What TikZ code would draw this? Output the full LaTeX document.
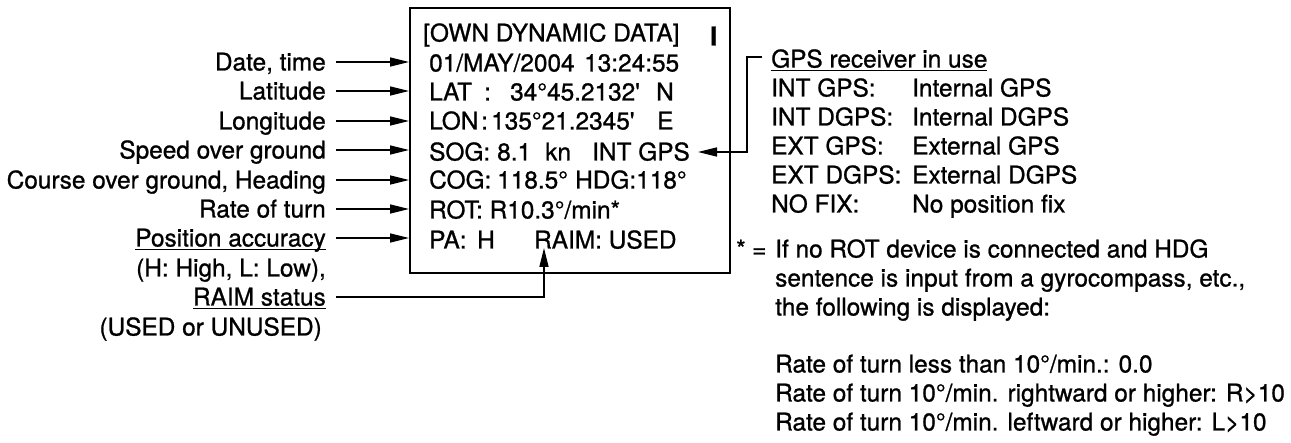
\documentclass[tikz,border=0pt]{standalone}
\usepackage{fontspec}
\setmainfont{TeX Gyre Heros}[Ligatures=TeXOff, FakeBold=0.9]
\usetikzlibrary{arrows.meta}
\newcommand\myul[1]{\setbox0=\hbox{#1}\rlap{\vrule width\wd0 height -2.4pt depth 3.9pt}\box0}
\begin{document}
\begin{tikzpicture}[x=1pt,y=-1pt,
  txt/.style={inner sep=0pt, text height=17pt, text depth=0pt, font=\fontsize{24.4}{29}\selectfont},
  lab/.style={txt, anchor=east},
  cell/.style={txt, anchor=west},
  arr/.style={line width=1.6pt, -{Triangle[length=19pt,width=9pt]}},
  frame/.style={draw, line width=1.6pt, inner sep=0pt, minimum width=320pt, minimum height=265pt, anchor=north west}]
\useasboundingbox (0,0) rectangle (1291,443);
% display box
\node[frame] (box) at (409,7) {};
% box contents
\node[cell] (hdr) at (423,33) {[OWN DYNAMIC DATA]};
\node[cell, font=\fontsize{26}{29}\selectfont\bfseries] (cur) at (710,37) {I};
\node[cell] (r1a) at (429,63) {01/MAY/2004};
\node[cell] (r1b) at (584,63) {13:24:55};
\node[cell] (r2a) at (429,92) {LAT};
\node[cell] (r2b) at (484,92) {:};
\node[cell] (r2c) at (510,92) {34°45.2132'};
\node[cell] (r2d) at (656,92) {N};
\node[cell] (r3a) at (429,121) {LON};
\node[cell] (r3b) at (481,121) {:};
\node[cell] (r3c) at (491,121) {135°21.2345'};
\node[cell] (r3d) at (657,121) {E};
\node[cell] (r4a) at (429,152) {SOG:};
\node[cell] (r4b) at (497,152) {8.1};
\node[cell] (r4c) at (545,152) {kn};
\node[cell] (intgps) at (592,152) {INT GPS};
\node[cell] (r5a) at (429,180) {COG:};
\node[cell] (r5b) at (497,180) {118.5°};
\node[cell] (r5c) at (575,180) {HDG:118°};
\node[cell] (r6a) at (429,210) {ROT: R10.3°/min*};
\node[cell] (r7a) at (429,240) {PA:};
\node[cell] (r7b) at (477,240) {H};
\node[cell] (raim) at (534,240) {RAIM: USED};
% left labels
\node[lab] (l1) at (326,62) {Date, time};
\node[lab] (l2) at (326,91) {Latitude};
\node[lab] (l3) at (326,121) {Longitude};
\node[lab] (l4) at (326,150) {Speed over ground};
\node[lab] (l5) at (326,180) {Course over ground, Heading};
\node[lab] (l6) at (326,209) {Rate of turn};
\node[lab] (l7) at (326,238) {\myul{Position accuracy}};
\node[lab] (l8) at (326,268) {(H: High, L: Low),};
\node[lab] (l9) at (326,297) {\myul{RAIM status}};
\node[lab] (l10) at (322,327) {(USED or UNUSED)};
\foreach \n in {l1,l2,l3,l4,l5,l6,l7}
  \draw[arr] ([xshift=10pt]\n.east) -- (box.west |- \n.east);
\coordinate (raimtip) at (544,248);
\draw[arr] ([xshift=10pt]l9.east) -| (raimtip);
% GPS receiver list
\node[cell] (gpsh) at (771,59) {\myul{GPS receiver in use}};
\node[cell] (g1a) at (771,88) {INT GPS:};
\node[cell] (g1b) at (912,88) {Internal GPS};
\node[cell] (g2a) at (771,117) {INT DGPS:};
\node[cell] (g2b) at (912,117) {Internal DGPS};
\node[cell] (g3a) at (771,146) {EXT GPS:};
\node[cell] (g3b) at (912,146) {External GPS};
\node[cell] (g4a) at (771,175) {EXT DGPS:};
\node[cell] (g4b) at (912,175) {External DGPS};
\node[cell] (g5a) at (771,204) {NO FIX:};
\node[cell] (g5b) at (912,204) {No position fix};
\draw[arr] ([xshift=-9pt,yshift=2pt]gpsh.west) -- ++(-15,0) |- ([xshift=8pt]intgps.east);
% footnote
\node[cell] (star) at (736,249) {*};
\node[cell] (eq) at (752,249) {=};
\node[cell] (f1) at (775,249) {If no ROT device is connected and HDG};
\node[cell] (f2) at (775,278) {sentence is input from a gyrocompass, etc.,};
\node[cell] (f3) at (775,307) {the following is displayed:};
\node[cell] (f4) at (775,364) {Rate of turn less than 10°/min.: 0.0};
\node[cell] (f5) at (775,393) {Rate of turn 10°/min. rightward or higher: R>10};
\node[cell] (f6) at (775,422) {Rate of turn 10°/min. leftward or higher: L>10};
\end{tikzpicture}
\end{document}
